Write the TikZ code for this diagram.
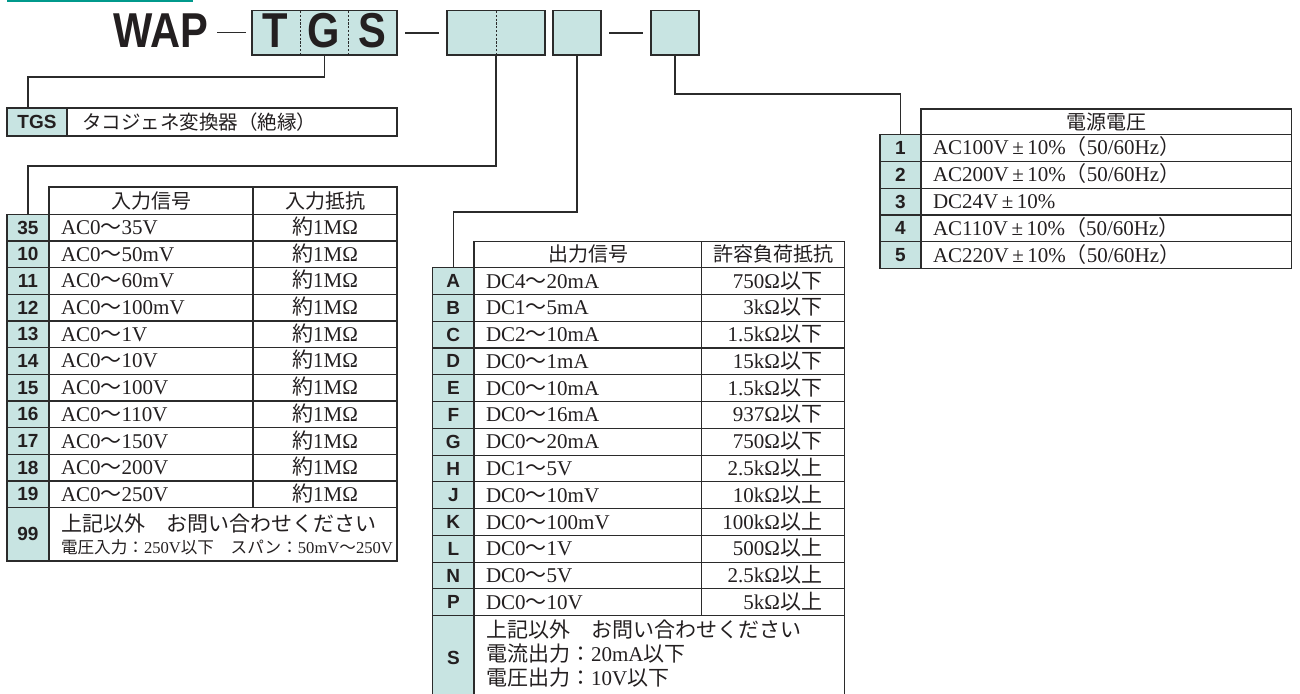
\documentclass[tikz,border=0pt]{standalone}
\usepackage{fontspec}
\setmainfont{Liberation Serif}
\newfontfamily\jp{Noto Sans CJK JP}
\newfontfamily\hv{Liberation Sans}
\definecolor{cell}{HTML}{C8E4E2}
\definecolor{ln}{HTML}{2B2B2B}
\definecolor{bar}{HTML}{00998C}
\definecolor{txt}{HTML}{231F20}
\newcommand\wv{{\jp ～}}
\newcommand\iKa{{\jp 以下}}
\newcommand\iJo{{\jp 以上}}
\newcommand\hz{{\jp （}50/60Hz{\jp ）}}
\begin{document}
\begin{tikzpicture}[x=1pt,y=-1pt,
  every node/.style={inner sep=0pt, outer sep=0pt, text=txt},
  tline/.style={draw=ln, line width=1.1pt},
  conn/.style={draw=ln, line width=1.1pt},
  topbox/.style={draw=ln, line width=1.1pt, fill=cell},
  divline/.style={draw=ln, line width=1pt, dash pattern=on 2.2pt off 1.6pt},
  labcell/.style={draw=ln, line width=1.1pt, fill=cell, font=\hv\bfseries\fontsize{19}{19}\selectfont},
  big/.style={font=\hv\bfseries\fontsize{49}{49}\selectfont, xscale=0.85},
  body/.style={font=\fontsize{21}{21}\selectfont},
  head/.style={font=\jp\fontsize{20}{20}\selectfont}]
\useasboundingbox (0,0) rectangle (1300,693);
\fill[bar] (7,0) rectangle (193,2.3);

% ---- code header ----
\node[big, anchor=base west] (wap) at (113,47.5) {WAP};
\draw[conn, line width=1.3pt] (217,32.5) -- (246,32.5);
\node[topbox, minimum width=145, minimum height=44.3] (b1) at (324.5,32.85) {};
\node[topbox, minimum width=98, minimum height=44.3] (b2) at (496,32.85) {};
\node[topbox, minimum width=48, minimum height=44.3] (b3) at (577,32.85) {};
\node[topbox, minimum width=48, minimum height=44.3] (b4) at (675,32.85) {};
\draw[conn, line width=1.3pt] (405,33) -- (439,33);
\draw[conn, line width=1.3pt] (609,33) -- (643,33);
\draw[divline] (300,11) -- (300,54.6);
\draw[divline] (348,11) -- (348,54.6);
\draw[divline] (496,11) -- (496,54.6);
\node[big, anchor=base] (lT) at (275.5,47.5) {T};
\node[big, anchor=base] (lG) at (324,47.5) {G};
\node[big, anchor=base] (lS) at (372.5,47.5) {S};

% ---- TGS row ----
\node[labcell, minimum width=60, minimum height=28] (tgs) at (37,122) {TGS};
\draw[tline] (67,108) rectangle (397,136);
\node[anchor=base west, font=\jp\fontsize{19.5}{19.5}\selectfont] (tgst) at (82,129.4) {タコジェネ変換器（絶縁）};

% ---- table 1 : input ----
\draw[tline] (49,187) rectangle (253,214.3);
\draw[tline] (253,187) rectangle (397,214.3);
\node[head, anchor=base] (h1a) at (151,208) {入力信号};
\node[head, anchor=base] (h1b) at (325,208) {入力抵抗};
\foreach \lab/\sig [count=\i from 0] in {35/35V,10/50mV,11/60mV,12/100mV,13/1V,14/10V,15/100V,16/110V,17/150V,18/200V,19/250V}{
  \pgfmathsetmacro\yt{214.3+26.67*\i}
  \pgfmathsetmacro\yc{\yt+13.335}
  \node[labcell, minimum width=42, minimum height=26.67] (in\lab) at (28,\yc) {\lab};
  \draw[tline] (49,\yt) rectangle (253,\yt+26.67);
  \draw[tline] (253,\yt) rectangle (397,\yt+26.67);
  \node[body, anchor=base west] at (61,\yc+7) {AC0\wv\sig};
  \node[body, anchor=base] at (325,\yc+7) {{\jp 約}1MΩ};
}
\node[labcell, minimum width=42, minimum height=53.3] (in99) at (28,534.35) {99};
\draw[tline] (49,507.7) rectangle (397,561);
\node[anchor=base west, font=\jp\fontsize{21}{21}\selectfont] (t99a) at (61,531) {上記以外　お問い合わせください};
\node[anchor=base west, font=\fontsize{16.6}{16.6}\selectfont] (t99b) at (61,553) {{\jp 電圧入力：}250V{\jp 以下　スパン：}50mV\wv250V};

% ---- table 2 : output ----
\draw[tline] (474,241.7) rectangle (701.7,267.7);
\draw[tline] (701.7,241.7) rectangle (844.3,267.7);
\node[head, anchor=base] (h2a) at (588,261.5) {出力信号};
\node[head, anchor=base] (h2b) at (773,261.5) {許容負荷抵抗};
\foreach \lab/\sig/\res [count=\i from 0] in {
  A/DC4\wv20mA/750Ω\iKa, B/DC1\wv5mA/3kΩ\iKa, C/DC2\wv10mA/1.5kΩ\iKa,
  D/DC0\wv1mA/15kΩ\iKa, E/DC0\wv10mA/1.5kΩ\iKa, F/DC0\wv16mA/937Ω\iKa,
  G/DC0\wv20mA/750Ω\iKa, H/DC1\wv5V/2.5kΩ\iJo, J/DC0\wv10mV/10kΩ\iJo,
  K/DC0\wv100mV/100kΩ\iJo, L/DC0\wv1V/500Ω\iJo, N/DC0\wv5V/2.5kΩ\iJo,
  P/DC0\wv10V/5kΩ\iJo}{
  \pgfmathsetmacro\yt{267.7+26.77*\i}
  \pgfmathsetmacro\yc{\yt+13.385}
  \node[labcell, minimum width=41.3, minimum height=26.77] (out\lab) at (453.35,\yc) {\lab};
  \draw[tline] (474,\yt) rectangle (701.7,\yt+26.77);
  \draw[tline] (701.7,\yt) rectangle (844.3,\yt+26.77);
  \node[body, anchor=base west] at (486,\yc+7) {\sig};
  \node[body, anchor=base east] at (822,\yc+7) {\res};
}
\node[labcell, minimum width=41.3, minimum height=84.3] (outS) at (453.35,657.85) {S};
\draw[tline] (474,615.7) rectangle (844.3,700);
\node[anchor=base west, font=\jp\fontsize{21}{21}\selectfont] (tSa) at (486,637.6) {上記以外　お問い合わせください};
\node[anchor=base west, font=\fontsize{21}{21}\selectfont] (tSb) at (486,661) {{\jp 電流出力：}20mA{\jp 以下}};
\node[anchor=base west, font=\fontsize{21}{21}\selectfont] (tSc) at (486,685.6) {{\jp 電圧出力：}10V{\jp 以下}};

% ---- table 3 : power ----
\draw[tline] (921,109) rectangle (1291.7,134.3);
\node[head, anchor=base] (h3) at (1106,129) {電源電圧};
\newcommand\pwrow[3]{%
  \node[labcell, minimum width=41, minimum height=26.9] (p#1) at (900.5,#2+13.45) {#1};
  \draw[tline] (921,#2) rectangle (1291.7,#2+26.9);
  \node[body, anchor=base west] at (933,#2+20.45) {#3};}
\pwrow{1}{134.3}{AC100V\,±\,10\%\hz}
\pwrow{2}{161.2}{AC200V\,±\,10\%\hz}
\pwrow{3}{188.1}{DC24V\,±\,10\%}
\pwrow{4}{215.0}{AC110V\,±\,10\%\hz}
\pwrow{5}{241.9}{AC220V\,±\,10\%\hz}

% ---- connectors ----
\coordinate (j1) at (28,77);
\coordinate (j2) at (0,166);
\coordinate (j3) at (0,212);
\coordinate (j4) at (0,94);
\draw[conn] (b1.south) |- (j1) -- (j1 |- tgs.north);
\draw[conn] (b2.south) |- (in35.north |- j2) -- (in35.north);
\draw[conn] (b3.south) |- (outA.north |- j3) -- (outA.north);
\draw[conn] (b4.south) |- (p1.north |- j4) -- (p1.north);
\end{tikzpicture}
\end{document}
